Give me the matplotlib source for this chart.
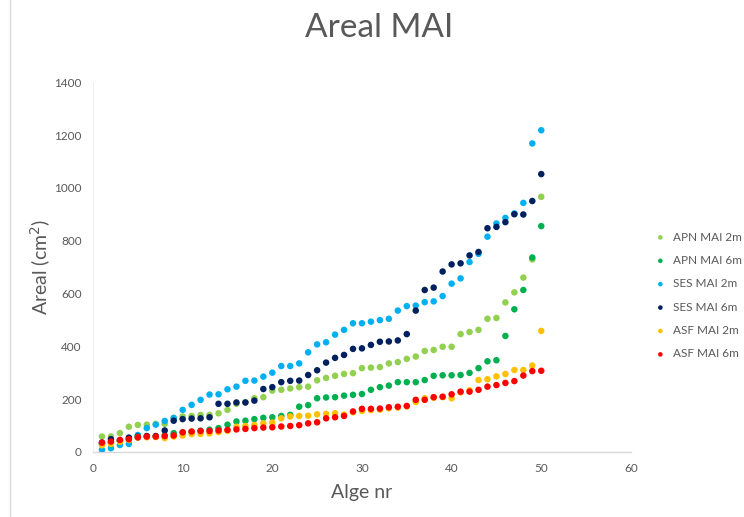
import matplotlib
matplotlib.use("Agg")
import matplotlib.pyplot as plt
from matplotlib.patches import Rectangle

plt.rcParams['font.family'] = ['Lato', 'DejaVu Sans']

alge_nr = list(range(1, 51))

apn_mai_2m = [58, 58, 71, 95, 102, 103, 106, 106, 129, 134,
              136, 140, 140, 146, 159, 182, 188, 203, 207, 232,
              235, 240, 245, 247, 271, 280, 288, 295, 298, 317,
              319, 321, 335, 340, 352, 361, 382, 386, 398, 398,
              446, 454, 462, 504, 507, 566, 604, 660, 729, 966]

apn_mai_6m = [30, 35, 42, 48, 55, 57, 58, 62, 71, 74,
              76, 80, 84, 90, 103, 115, 118, 124, 129, 131,
              136, 140, 171, 177, 203, 206, 207, 213, 216, 219,
              235, 245, 251, 264, 264, 264, 272, 288, 290, 290,
              291, 299, 317, 343, 347, 439, 540, 613, 736, 855]

ses_mai_2m = [8, 14, 26, 30, 64, 90, 103, 117, 128, 159,
              178, 197, 217, 218, 237, 247, 269, 270, 285, 300,
              325, 325, 335, 377, 407, 415, 444, 462, 487, 487,
              493, 499, 504, 535, 552, 554, 567, 570, 590, 637,
              657, 719, 750, 815, 865, 886, 903, 943, 1168, 1218]

ses_mai_6m = [35, 48, 43, 54, 58, 60, 60, 81, 118, 124,
              126, 127, 131, 182, 182, 187, 187, 194, 238, 245,
              264, 269, 270, 291, 309, 338, 356, 367, 390, 392,
              405, 417, 418, 422, 446, 535, 613, 622, 683, 710,
              714, 744, 757, 847, 852, 870, 900, 899, 950, 1052]

asf_mai_2m = [25, 30, 38, 45, 55, 55, 56, 52, 58, 62,
              67, 68, 70, 75, 80, 95, 98, 102, 108, 111,
              127, 134, 136, 137, 142, 144, 146, 141, 150, 155,
              158, 160, 165, 168, 172, 189, 203, 205, 207, 203,
              225, 233, 272, 275, 286, 295, 310, 310, 327, 458]

asf_mai_6m = [35, 39, 45, 48, 55, 58, 58, 60, 62, 74,
              77, 79, 79, 81, 83, 85, 87, 90, 92, 93,
              96, 98, 101, 108, 112, 127, 131, 136, 153, 163,
              163, 164, 169, 171, 174, 197, 197, 207, 209, 218,
              228, 228, 235, 247, 253, 261, 268, 289, 306, 307]

series_names = ["APN MAI 2m", "APN MAI 6m", "SES MAI 2m",
                "SES MAI 6m", "ASF MAI 2m", "ASF MAI 6m"]
series_values = [apn_mai_2m, apn_mai_6m, ses_mai_2m,
                 ses_mai_6m, asf_mai_2m, asf_mai_6m]
series_colors = ["#92d050", "#00b050", "#00b0f0",
                 "#002060", "#ffc000", "#ff0000"]

text_gray = "#595959"
axis_gray = "#d9d9d9"

fig = plt.figure(figsize=(7.44, 5.17), dpi=100)
ax = fig.add_axes([0.125, 0.126, 0.723, 0.715])

for name, vals, col in zip(series_names, series_values, series_colors):
    ax.scatter(alge_nr, vals, s=22, color=col, label=name,
               edgecolors="none", zorder=3)

ax.set_xlim(0, 60)
ax.set_ylim(0, 1400)
ax.set_xticks(range(0, 61, 10))
ax.set_yticks(range(0, 1401, 200))
ax.tick_params(length=0, labelsize=8.5, colors=text_gray, pad=8)

for side in ("top", "right"):
    ax.spines[side].set_visible(False)
ax.spines["bottom"].set_color(axis_gray)
ax.spines["left"].set_color("#f0f0f0")
ax.spines["bottom"].set_linewidth(1.0)

ax.set_xlabel("Alge nr", fontsize=14, color=text_gray, labelpad=7)
ax.set_ylabel("Areal (cm$^2$)", fontsize=14, color=text_gray, labelpad=1)
fig.suptitle("Areal MAI", fontsize=24, color=text_gray, x=0.51, y=0.975)

leg = ax.legend(loc="center left", bbox_to_anchor=(1.024, 0.423),
                frameon=False, fontsize=8.5, labelcolor=text_gray,
                handletextpad=0.1, labelspacing=1.05, markerscale=0.7,
                borderaxespad=0)

fig.patches.append(Rectangle((10 / 744, -0.01), 1.1, 1.02,
                             transform=fig.transFigure, fill=False,
                             edgecolor=axis_gray, linewidth=1))

fig.savefig("out.png", dpi=100)
